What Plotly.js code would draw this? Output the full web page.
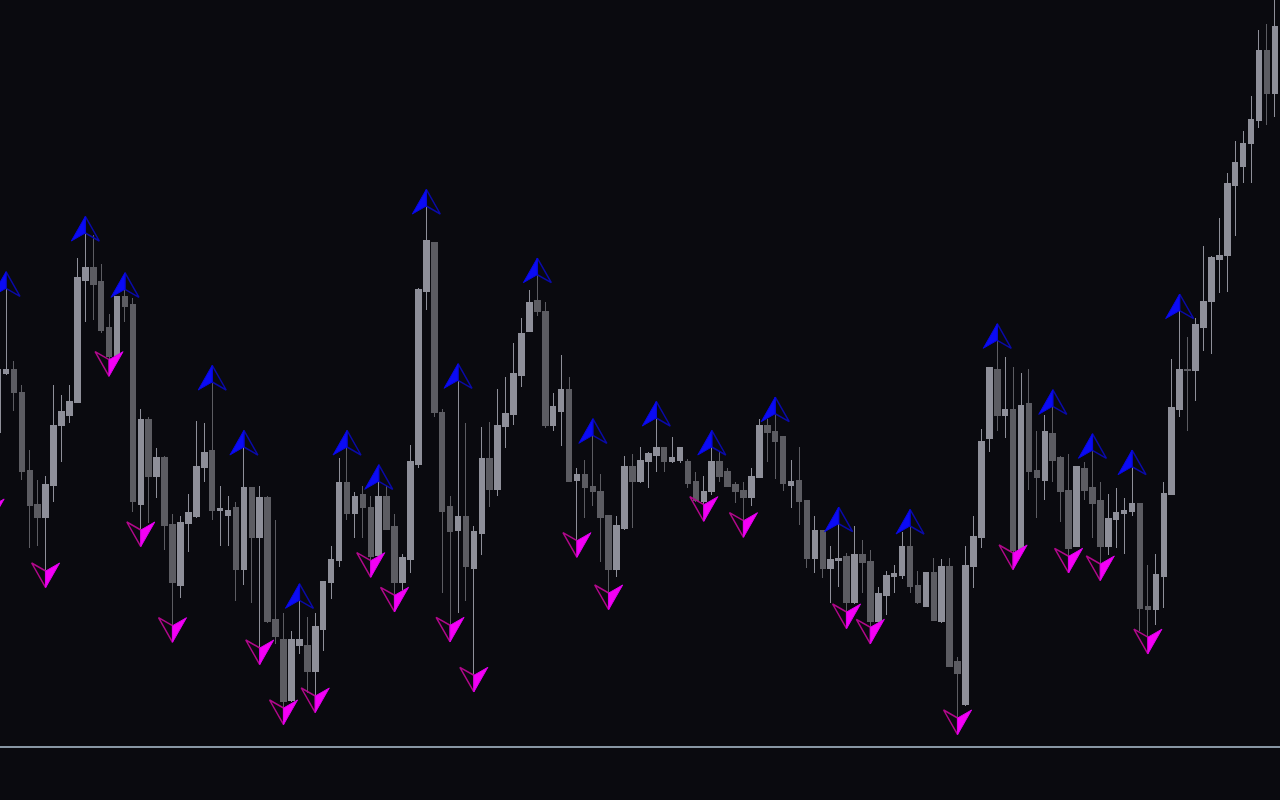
<!DOCTYPE html>
<html><head><meta charset="utf-8">
<script src="https://cdn.plot.ly/plotly-3.0.1.min.js"></script>
<style>html,body{margin:0;padding:0;background:#0a0a0f;overflow:hidden}#chart{width:1280px;height:800px}
g.boxlayer path, g.trace.boxes path, g.candlesticklayer path{shape-rendering:crispEdges !important}</style>
</head><body><div id="chart"></div>
<script>
// Bar indices start at -2 (two bars partly off the left edge)
const firstBar = -2;

const opens = [
  350, 367.3, 426.7, 431, 407.3, 330, 296, 282.3, 314.3, 375,
  385, 397.3, 520, 532.3, 518.3, 472.3, 445, 504, 496, 296,
  381, 324, 342.3, 276, 215, 276.7, 283.3, 332.3, 350, 290,
  284.3, 292.3, 231, 312.3, 262.3, 302.3, 181, 161, 100, 155,
  155, 129, 171, 217.3, 239.3, 317.7, 286.7, 306, 292.3, 245,
  304, 274, 217.3, 241, 336, 508.3, 557.7, 387.3, 294, 270,
  284, 231.7, 266.7, 341.7, 310.7, 373.3, 385.7, 425, 468.3, 500,
  488.3, 375, 389, 411, 320, 325.7, 314, 308.3, 284.3, 230.7,
  271.7, 334, 318.3, 338.3, 344.3, 352.3, 338.3, 340, 338.3, 318.3,
  298.3, 308.3, 338.3, 328.3, 316, 310, 302.3, 322.3, 375, 369,
  363.3, 314.3, 320, 300, 241.7, 270, 231.7, 239.7, 244, 197.3,
  246, 239, 178.3, 205, 223.3, 225, 254, 215, 194, 227.3,
  178.3, 233.3, 139, 96, 233.3, 262.3, 361.3, 431, 385, 391,
  250, 397, 330, 320, 367, 342.3, 310, 254, 332, 312.3,
  300, 254, 280.7, 286.5, 288.6, 296.2, 194, 191, 223.4, 305.5,
  390.9, 430.9, 429.6, 472.5, 498.2, 540.3, 544.5, 614.8, 633.7, 656.9,
  679.2, 749.9, 706.6
];
const highs = [
  360, 438, 511.7, 439, 415, 350, 320, 324, 415, 405,
  415, 541.7, 567, 565, 536, 486, 504, 510.7, 501.7, 391,
  383, 352.3, 344, 286, 284, 306, 379, 377, 418, 314,
  304, 298, 353, 312.3, 314, 304, 280, 186.7, 169, 199.7,
  183.3, 186.7, 219, 254, 342.3, 353, 307.7, 314, 304, 318.7,
  314, 285.7, 246, 355, 512.3, 594, 558, 390.7, 304, 419.7,
  376.7, 274, 372.7, 378.3, 410.7, 422.7, 456.7, 481.7, 510, 525.3,
  497.7, 406.7, 445, 423.3, 331.7, 340, 364.7, 325.7, 284.3, 284.3,
  344, 346, 353.3, 348.3, 382, 352.3, 363.3, 352.3, 340.7, 328.3,
  324, 353, 348.3, 331.7, 318.3, 318.3, 331.7, 381, 381, 386.3,
  363.3, 340, 353.3, 300, 284, 270, 254, 276.3, 247.3, 274,
  260, 250, 212.7, 229, 235, 268.3, 274, 229, 227.3, 241.7,
  240.7, 241.7, 143.3, 254, 284, 371, 433, 459.7, 443, 433,
  426.7, 431, 369, 385, 393.7, 344, 346, 334.3, 338, 349.7,
  318, 306, 312, 302, 333.3, 296.2, 235.2, 245.7, 318.1, 441,
  489.4, 463.3, 482, 553.8, 544.5, 582.4, 627.4, 659, 668.7, 704,
  770.5, 776, 805
];
const lows = [
  293, 355, 425, 389.3, 320, 252.3, 254.3, 229, 298.3, 338.3,
  377.3, 397.3, 478.3, 480, 467.3, 440.3, 443, 478.3, 288.3, 270,
  276.7, 302.3, 250, 174.3, 201.7, 248.3, 282.5, 318.3, 280, 254.3,
  254.3, 199.3, 215, 197.3, 152, 177.3, 155.7, 92, 98.5, 145.7,
  107, 104, 149, 201, 233.3, 280, 262.3, 262.3, 239.3, 243,
  270, 204.7, 210, 227.3, 332.3, 490, 383.3, 207.3, 174.7, 187.3,
  199.3, 124.7, 245, 292.7, 304.3, 352.3, 375, 413.3, 468.3, 484.3,
  371.7, 369.3, 354.3, 318.3, 259.3, 282.3, 294, 237.7, 207, 223.3,
  270, 272.3, 317, 312.3, 328.3, 328.3, 336.7, 336.7, 312.3, 298,
  295.3, 305, 318.3, 313, 296.7, 279.3, 294.3, 322.3, 338.3, 320.7,
  309, 292.3, 275, 231.7, 227.3, 221.7, 197.3, 213.3, 188, 196,
  207.3, 172.7, 178, 185, 207.3, 221, 207.3, 195.7, 193.3, 179,
  177.3, 133.3, 82, 94, 211.7, 252.3, 348.3, 369, 361.7, 247,
  249, 310, 282.3, 300, 318.3, 278.3, 243.7, 253, 300, 262.3,
  236, 245, 252.3, 246.5, 284.4, 169, 162.8, 175, 192, 305,
  383.3, 369.4, 399.3, 449.4, 445.6, 506.6, 508.3, 564.3, 616.9, 616.9,
  671.6, 675, 683.4
];
const closes = [
  330, 431, 431, 407.3, 328.3, 294.3, 282.3, 316, 375, 389,
  399, 522.3, 532.3, 516, 470, 443.3, 504, 494, 298.3, 381,
  324, 342.3, 274.3, 217.3, 277.7, 287.7, 334, 348, 290, 292,
  290, 231, 312.3, 262.3, 302.3, 178.3, 163.3, 98.3, 161, 161,
  129, 173.3, 219, 241, 317.7, 286.7, 304, 292.3, 243.3, 304,
  270.7, 217.3, 242.3, 338.3, 510.7, 560, 387.3, 288.3, 268.3, 284,
  233.3, 268.3, 341.7, 310.7, 375, 386.7, 426.7, 466.7, 497.7, 488.3,
  375, 393.3, 411, 318.3, 325.7, 312.3, 308.3, 282.3, 230.7, 274.3,
  334, 318.3, 340, 346.7, 352.3, 338.3, 342.3, 352.3, 316.7, 300,
  308.3, 338.3, 324, 314, 308.3, 302.3, 324, 375, 367.3, 359,
  316.7, 318.3, 298.3, 241.7, 270, 231.7, 240.7, 241.7, 197.3, 246,
  237.3, 179, 206.7, 225, 226.7, 254, 213.3, 197.3, 227.3, 179.3,
  233.3, 134, 126.7, 235, 264, 359, 433, 385, 391, 250,
  395, 328.3, 322.3, 369, 340, 308.3, 251.7, 333.3, 310, 296.7,
  254, 281.7, 287.7, 290, 296.2, 191.8, 191, 225.5, 306.3, 393,
  430.9, 429.6, 475.9, 498.2, 542.4, 544.5, 616.9, 637.1, 656.9, 680.9,
  749.9, 706.6, 773.9
];

// Fractal signals (bar indices)
const upArrowBars = [0, 10, 15, 26, 30, 37, 43, 47, 53, 57, 67, 74, 82, 89, 97, 105, 114, 125, 132, 137, 142, 148];
const downArrowBars = [-2, 5, 13, 17, 21, 32, 35, 39, 46, 49, 56, 59, 72, 76, 88, 93, 106, 109, 120, 127, 134, 138, 144];

const bars = opens.map((_, i) => i + firstBar);

const BG = '#0a0a0f', BULL = '#8e8f99', BEAR = '#5c5c62';
const HW = 1.765, TIP = 16.6, WING = 8;

function arrowPath(list, side, isUp) {
  const xs = [], ys = [];
  list.forEach(b => {
    const i = b - firstBar;
    const v = isUp ? highs[i] : lows[i];
    const tip = isUp ? v + TIP : v - TIP;
    const wing = isUp ? v - WING : v + WING;
    xs.push(b, b + side * HW, b, b, null);
    ys.push(tip, wing, v, tip, null);
  });
  return {xs, ys};
}
const upFill = arrowPath(upArrowBars, -1, true);
const upOut = arrowPath(upArrowBars, 1, true);
const dnFill = arrowPath(downArrowBars, 1, false);
const dnOut = arrowPath(downArrowBars, -1, false);

const traces = [
  {type: 'candlestick', x: bars, open: opens, high: highs, low: lows, close: closes,
   increasing: {line: {color: BULL, width: 1}, fillcolor: BULL},
   decreasing: {line: {color: BEAR, width: 1}, fillcolor: BEAR},
   whiskerwidth: 0, hoverinfo: 'skip'},
  {type: 'scatter', mode: 'lines', x: upOut.xs, y: upOut.ys, line: {color: '#0a0aa8', width: 1.5}, hoverinfo: 'skip'},
  {type: 'scatter', mode: 'lines', x: upFill.xs, y: upFill.ys, fill: 'toself', fillcolor: '#0b0bf5', line: {color: '#0808e0', width: 1}, hoverinfo: 'skip'},
  {type: 'scatter', mode: 'lines', x: dnOut.xs, y: dnOut.ys, line: {color: '#b0088a', width: 1.5}, hoverinfo: 'skip'},
  {type: 'scatter', mode: 'lines', x: dnFill.xs, y: dnFill.ys, fill: 'toself', fillcolor: '#f500f5', line: {color: '#dc00ec', width: 1}, hoverinfo: 'skip'}
];

const r0 = -6 / 7.93;
const layout = {
  width: 1280, height: 800,
  margin: {l: 0, r: 0, t: 0, b: 54, pad: 0},
  paper_bgcolor: BG, plot_bgcolor: BG,
  showlegend: false,
  boxgap: 0.3, boxgroupgap: 0,
  xaxis: {range: [r0, r0 + 1280 / 7.93], showgrid: false, zeroline: false, showticklabels: false, ticks: '',
          showline: true, linecolor: '#8896a3', linewidth: 2, rangeslider: {visible: false}, fixedrange: true},
  yaxis: {range: [54, 800], showgrid: false, zeroline: false, showticklabels: false, ticks: '', showline: false, fixedrange: true}
};
Plotly.newPlot('chart', traces, layout, {displayModeBar: false, staticPlot: true});
</script>
</body></html>
